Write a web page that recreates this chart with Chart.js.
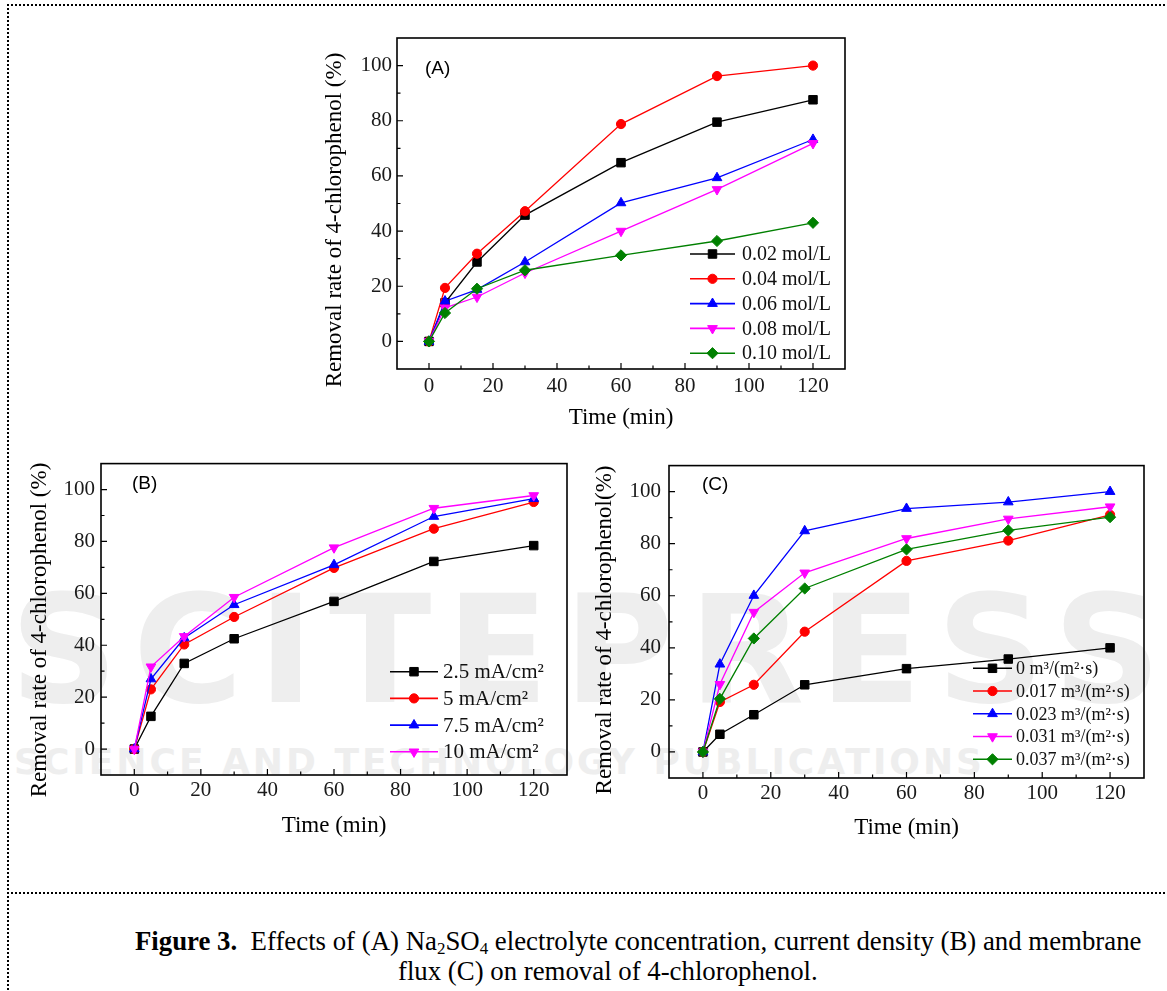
<!DOCTYPE html>
<html>
<head>
<meta charset="utf-8">
<script src="https://cdn.jsdelivr.net/npm/chart.js@4.4.1/dist/chart.umd.min.js"></script>
<style>
html,body{margin:0;padding:0;background:#fff;width:1167px;height:991px;overflow:hidden;}
#page{position:relative;width:1167px;height:991px;overflow:hidden;}
.wrap{position:absolute;}
.wrap canvas{display:block;}
#frameL{position:absolute;left:7px;top:4px;width:0;height:990px;border-left:2px dotted #000;}
#frameT{position:absolute;left:7px;top:4px;width:1170px;height:0;border-top:2px dotted #000;}
#sep{position:absolute;left:7px;top:892px;width:1170px;height:0;border-top:2px dotted #000;}
#wm1{position:absolute;left:10px;top:575px;font-family:"DejaVu Sans";font-weight:bold;font-size:150px;letter-spacing:15px;color:#eeeeee;white-space:nowrap;line-height:1;}
#wm2{position:absolute;left:14px;top:744px;font-family:"DejaVu Sans";font-weight:bold;font-size:36px;letter-spacing:3px;color:#eeeeee;white-space:nowrap;line-height:1;}
.cap{position:absolute;font-family:"Liberation Serif";font-size:26.8px;line-height:30px;color:#000;white-space:nowrap;}
.cap b{font-weight:bold;}
.cap sub{font-size:17px;vertical-align:-4px;line-height:0;}
#cap1{left:135px;top:926px;}
#cap2{left:398px;top:956px;}
</style>
</head>
<body>
<div id="page">
  <div id="wm1">SCITEPRESS</div>
  <div id="wm2">SCIENCE AND TECHNOLOGY PUBLICATIONS</div>
  <div id="frameL"></div>
  <div id="frameT"></div>
  <div id="sep"></div>
  <div class="wrap" id="wA"><canvas id="cA"></canvas></div>
  <div class="wrap" id="wB"><canvas id="cB"></canvas></div>
  <div class="wrap" id="wC"><canvas id="cC"></canvas></div>
  <div class="cap" id="cap1"><b>Figure 3.</b>&nbsp; Effects of (A) Na<sub>2</sub>SO<sub>4</sub> electrolyte concentration, current density (B) and membrane</div>
  <div class="cap" id="cap2">flux (C) on removal of 4-chlorophenol.</div>
</div>
<script>
// ---------------- DATA ----------------
const timeMin = [0, 5, 15, 30, 60, 90, 120];
const xTickValues = [0, 20, 40, 60, 80, 100, 120];
const yTickValues = [0, 20, 40, 60, 80, 100];

// (A) Na2SO4 concentration
const labelsA = ['0.02 mol/L', '0.04 mol/L', '0.06 mol/L', '0.08 mol/L', '0.10 mol/L'];
const a002 = [0, 14.0, 28.8, 45.8, 64.8, 79.5, 87.6];
const a004 = [0, 19.4, 31.8, 47.2, 78.8, 96.2, 100.0];
const a006 = [0, 14.6, 18.8, 28.8, 50.2, 59.3, 73.2];
const a008 = [0, 12.2, 16.1, 24.8, 40.0, 55.1, 71.8];
const a010 = [0, 10.3, 19.1, 25.8, 31.2, 36.4, 43.0];

// (B) current density
const labelsB = ['2.5 mA/cm\u00B2', '5 mA/cm\u00B2', '7.5 mA/cm\u00B2', '10 mA/cm\u00B2'];
const b25 = [0, 12.6, 33.0, 42.5, 56.9, 72.3, 78.4];
const b5  = [0, 23.0, 40.3, 50.9, 69.8, 84.9, 95.2];
const b75 = [0, 27.0, 42.8, 55.6, 71.0, 89.6, 96.5];
const b10 = [0, 31.7, 43.4, 58.5, 77.6, 92.8, 97.7];

// (C) membrane flux
const labelsC = ['0 m\u00B3/(m\u00B2\u00B7s)', '0.017 m\u00B3/(m\u00B2\u00B7s)', '0.023 m\u00B3/(m\u00B2\u00B7s)', '0.031 m\u00B3/(m\u00B2\u00B7s)', '0.037 m\u00B3/(m\u00B2\u00B7s)'];
const c000 = [0, 6.8, 14.3, 25.8, 32.0, 35.7, 40.0];
const c017 = [0, 19.2, 25.8, 46.2, 73.4, 81.2, 91.1];
const c023 = [0, 33.7, 60.1, 84.9, 93.5, 96.0, 100.0];
const c031 = [0, 26.0, 53.7, 68.8, 82.0, 89.5, 94.2];
const c037 = [0, 20.4, 43.6, 62.8, 77.8, 85.1, 90.2];

// ---------------- STYLE ----------------
const SERIF = '"Liberation Serif", "Times New Roman", serif';
const colors5 = ['#000000', '#ff0000', '#0000ff', '#ff00ff', '#008000'];
const styles5 = ['rect', 'circle', 'triangle', 'triangle', 'rectRot'];
const rots5 = [0, 0, 0, 180, 0];
const radii5 = [6, 4.6, 5.6, 5.6, 5.6];

function drawMarker(ctx, style, r, rot, x, y, color) {
  ctx.save();
  ctx.fillStyle = color; ctx.strokeStyle = color; ctx.lineWidth = 1;
  if (Chart.helpers && Chart.helpers.drawPoint) {
    Chart.helpers.drawPoint(ctx, {pointStyle: style, radius: r, rotation: rot, borderWidth: 1}, x, y);
  } else {
    ctx.beginPath();
    ctx.arc(x, y, r, 0, Math.PI * 2);
    ctx.fill();
  }
  ctx.restore();
}

function makeDatasets(labels, series) {
  return series.map((d, i) => ({
    label: labels[i],
    data: timeMin.map((t, k) => ({x: t, y: d[k]})),
    borderColor: colors5[i],
    backgroundColor: colors5[i],
    pointBackgroundColor: colors5[i],
    pointBorderColor: colors5[i],
    pointStyle: styles5[i],
    pointRotation: rots5[i],
    pointRadius: radii5[i],
    pointBorderWidth: 1,
    borderWidth: 1.3,
    tension: 0,
    order: series.length - i
  }));
}

const framePlugin = {
  id: 'frameTicks',
  beforeDatasetsDraw(chart) {
    const {ctx, chartArea: a, scales: {x, y}} = chart;
    ctx.save();
    ctx.strokeStyle = '#000';
    ctx.lineWidth = 1.6;
    ctx.strokeRect(a.left, a.top, a.right - a.left, a.bottom - a.top);
    ctx.lineWidth = 1.2;
    ctx.beginPath();
    xTickValues.forEach(v => { const p = x.getPixelForValue(v); ctx.moveTo(p, a.bottom); ctx.lineTo(p, a.bottom - 6); });
    for (let i = 0; i < xTickValues.length - 1; i++) {
      const p = x.getPixelForValue((xTickValues[i] + xTickValues[i + 1]) / 2);
      ctx.moveTo(p, a.bottom); ctx.lineTo(p, a.bottom - 3.5);
    }
    yTickValues.forEach(v => { const p = y.getPixelForValue(v); ctx.moveTo(a.left, p); ctx.lineTo(a.left + 6, p); });
    for (let i = 0; i < yTickValues.length - 1; i++) {
      const p = y.getPixelForValue((yTickValues[i] + yTickValues[i + 1]) / 2);
      ctx.moveTo(a.left, p); ctx.lineTo(a.left + 3.5, p);
    }
    ctx.stroke();
    ctx.restore();
  }
};

const decorPlugin = {
  id: 'decor',
  afterDraw(chart, args, opts) {
    const {ctx} = chart;
    const ox = opts.cv.left, oy = opts.cv.top;
    ctx.save();
    ctx.translate(opts.yTitle.x - ox, opts.yTitle.y - oy);
    ctx.rotate(-Math.PI / 2);
    ctx.font = opts.yTitle.size + 'px ' + SERIF;
    ctx.fillStyle = '#000';
    ctx.textAlign = 'center';
    ctx.textBaseline = 'middle';
    ctx.fillText(opts.yTitle.text, 0, 0);
    ctx.restore();
    ctx.save();
    ctx.font = opts.tag.size + 'px "Liberation Sans", Arial, sans-serif';
    ctx.fillStyle = '#000';
    ctx.textAlign = 'left';
    ctx.textBaseline = 'middle';
    ctx.fillText(opts.tag.text, opts.tag.x - ox, opts.tag.y - oy);
    ctx.restore();
    const L = opts.legend;
    chart.data.datasets.forEach((ds, i) => {
      const yy = L.y0 + i * L.dy - oy;
      ctx.save();
      ctx.strokeStyle = ds.borderColor;
      ctx.lineWidth = 1.6;
      ctx.beginPath();
      ctx.moveTo(L.x1 - ox, yy); ctx.lineTo(L.x2 - ox, yy);
      ctx.stroke();
      ctx.restore();
      drawMarker(ctx, ds.pointStyle, ds.pointRadius, ds.pointRotation, (L.x1 + L.x2) / 2 - ox, yy, ds.borderColor);
      ctx.save();
      ctx.font = L.size + 'px ' + SERIF;
      ctx.fillStyle = '#111';
      ctx.textAlign = 'left';
      ctx.textBaseline = 'middle';
      ctx.fillText(ds.label, L.tx - ox, yy + 1);
      ctx.restore();
    });
  }
};

function makePanel(id, wrapId, labels, series, P) {
  const wrap = document.getElementById(wrapId);
  wrap.style.left = P.cv.left + 'px';
  wrap.style.top = P.cv.top + 'px';
  const canvas = document.getElementById(id);
  canvas.width = P.cv.w; canvas.height = P.cv.h;
  canvas.style.width = P.cv.w + 'px'; canvas.style.height = P.cv.h + 'px';
  const titleSize = P.xTitleSize;
  const lh = titleSize * 1.2;
  const xScaleH = P.cv.top + P.cv.h - P.plot.b;
  const titlePadBottom = (P.cv.top + P.cv.h) - P.xTitleY - lh / 2;
  new Chart(canvas, {
    type: 'line',
    data: {datasets: makeDatasets(labels, series)},
    options: {
      responsive: false,
      animation: false,
      devicePixelRatio: 1,
      layout: {padding: {left: 0, top: P.plot.t - P.cv.top, right: P.cv.left + P.cv.w - P.plot.r, bottom: 0}},
      plugins: {
        legend: {display: false},
        tooltip: {enabled: false},
        decor: P
      },
      scales: {
        x: {
          type: 'linear', min: -10, max: 130,
          afterBuildTicks: s => { s.ticks = xTickValues.map(v => ({value: v})); },
          afterFit: s => { s.height = xScaleH; },
          grid: {display: false, drawTicks: false},
          border: {display: false},
          ticks: {font: {family: SERIF, size: P.tickSize}, color: '#1a1a1a', padding: P.xPad, maxRotation: 0},
          title: {display: true, text: 'Time (min)', color: '#000', font: {family: SERIF, size: titleSize}, padding: {top: 0, bottom: titlePadBottom}}
        },
        y: {
          type: 'linear', min: -10, max: 110,
          afterBuildTicks: s => { s.ticks = yTickValues.map(v => ({value: v})); },
          afterFit: s => { s.width = P.plot.l - P.cv.left; },
          grid: {display: false, drawTicks: false},
          border: {display: false},
          ticks: {font: {family: SERIF, size: P.tickSize}, color: '#1a1a1a', padding: P.yPad}
        }
      }
    },
    plugins: [framePlugin, decorPlugin]
  });
}

makePanel('cA', 'wA', labelsA, [a002, a004, a006, a008, a010], {
  cv: {left: 310, top: 20, w: 560, h: 425},
  plot: {l: 397, t: 38, r: 845, b: 369},
  xTitleY: 418, xTitleSize: 23, tickSize: 21, xPad: 5, yPad: 5,
  yTitle: {x: 335, y: 220, size: 23, text: 'Removal rate of 4-chlorophenol (%)'},
  tag: {text: '(A)', x: 425, y: 69, size: 19},
  legend: {x1: 690, x2: 735, tx: 742, y0: 254, dy: 24.8, size: 20}
});

makePanel('cB', 'wB', labelsB, [b25, b5, b75, b10], {
  cv: {left: 12, top: 445, w: 578, h: 400},
  plot: {l: 101, t: 456, r: 567, b: 775},
  xTitleY: 826, xTitleSize: 23, tickSize: 21, xPad: 3, yPad: 6,
  yTitle: {x: 40, y: 630, size: 23, text: 'Removal rate of 4-chlorophenol (%)'},
  tag: {text: '(B)', x: 132, y: 484, size: 19},
  legend: {x1: 390, x2: 438, tx: 443, y0: 671.7, dy: 26.7, size: 21}
});

makePanel('cC', 'wC', labelsC, [c000, c017, c023, c031, c037], {
  cv: {left: 590, top: 445, w: 577, h: 400},
  plot: {l: 669, t: 455, r: 1144, b: 778},
  xTitleY: 828, xTitleSize: 23, tickSize: 21, xPad: 3, yPad: 8,
  yTitle: {x: 605, y: 630, size: 23, text: 'Removal rate of 4-chlorophenol(%)'},
  tag: {text: '(C)', x: 702, y: 485, size: 19},
  legend: {x1: 973, x2: 1012, tx: 1016, y0: 668.3, dy: 22.75, size: 18}
});
</script>
</body>
</html>
